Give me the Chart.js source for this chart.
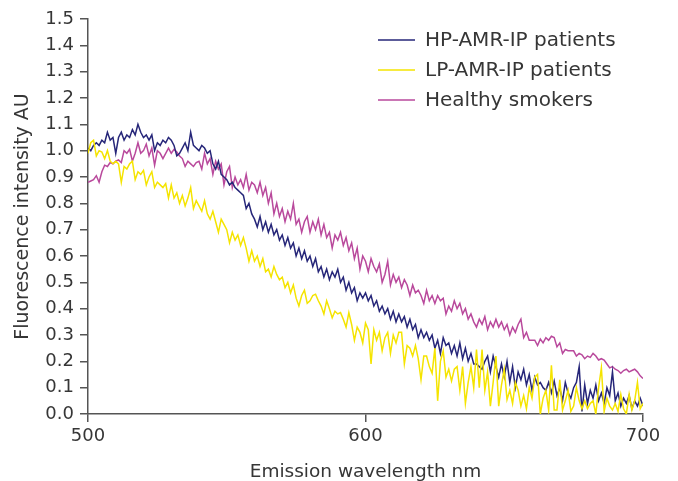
<!DOCTYPE html>
<html>
<head>
<meta charset="utf-8">
<title>Fluorescence spectra</title>
<script src="https://cdn.jsdelivr.net/npm/chart.js@4.4.1/dist/chart.umd.min.js"></script>
<style>
  html, body { margin: 0; padding: 0; background: #fff; }
  #wrap { width: 678px; height: 481px; position: relative; }
</style>
</head>
<body>
<div id="wrap"><canvas id="spectra"></canvas></div>
<script>
// series labels
const seriesNames = ["HP-AMR-IP patients", "LP-AMR-IP patients", "Healthy smokers"];

// fluorescence intensity (AU), one value per nm from 500 to 700 nm
const hpValues = [
  1.01, 1.00, 1.02, 1.03, 1.02, 1.04, 1.03, 1.07, 1.04, 1.05,
  0.99, 1.05, 1.07, 1.04, 1.06, 1.05, 1.08, 1.06, 1.10, 1.07,
  1.05, 1.06, 1.04, 1.06, 1.00, 1.03, 1.02, 1.04, 1.03, 1.05,
  1.04, 1.02, 0.98, 0.99, 1.01, 1.03, 1.00, 1.07, 1.02, 1.01,
  1.00, 1.02, 1.01, 0.99, 1.00, 0.95, 0.93, 0.96, 0.91, 0.90,
  0.89, 0.87, 0.88, 0.86, 0.85, 0.84, 0.83, 0.78, 0.80, 0.76,
  0.74, 0.71, 0.75, 0.70, 0.73, 0.69, 0.72, 0.68, 0.70, 0.66,
  0.68, 0.64, 0.67, 0.63, 0.65, 0.60, 0.63, 0.59, 0.62, 0.58,
  0.60, 0.56, 0.59, 0.54, 0.56, 0.52, 0.55, 0.51, 0.54, 0.52,
  0.55, 0.50, 0.52, 0.47, 0.50, 0.46, 0.48, 0.43, 0.46, 0.44,
  0.46, 0.43, 0.45, 0.41, 0.43, 0.39, 0.41, 0.38, 0.40, 0.36,
  0.39, 0.35, 0.38, 0.35, 0.37, 0.33, 0.36, 0.32, 0.34, 0.29,
  0.32, 0.29, 0.31, 0.28, 0.30, 0.25, 0.28, 0.23, 0.29, 0.26,
  0.27, 0.23, 0.26, 0.22, 0.27, 0.21, 0.25, 0.20, 0.23, 0.19,
  0.19, 0.18, 0.17, 0.20, 0.22, 0.16, 0.22, 0.18, 0.14, 0.19,
  0.14, 0.20, 0.12, 0.18, 0.10, 0.16, 0.13, 0.17, 0.11, 0.15,
  0.09, 0.14, 0.11, 0.12, 0.10, 0.09, 0.12, 0.08, 0.125, 0.07,
  0.10, 0.05, 0.12, 0.08, 0.06, 0.10, 0.12, 0.18, 0.01, 0.11,
  0.04, 0.09, 0.06, 0.11, 0.05, 0.08, 0.04, 0.10, 0.07, 0.16,
  0.05, 0.08, 0.03, 0.06, 0.04, 0.07, 0.02, 0.05, 0.03, 0.06,
  0.03
];

const lpValues = [
  0.99, 1.03, 1.04, 0.98, 1.00, 0.995, 0.97, 1.00, 0.96, 0.95,
  0.96, 0.95, 0.88, 0.94, 0.93, 0.95, 0.96, 0.89, 0.92, 0.91,
  0.925, 0.87, 0.90, 0.92, 0.86, 0.88, 0.87, 0.86, 0.875, 0.82,
  0.87, 0.82, 0.84, 0.80, 0.83, 0.79, 0.82, 0.86, 0.78, 0.81,
  0.79, 0.77, 0.81, 0.76, 0.74, 0.77, 0.73, 0.69, 0.74, 0.72,
  0.70, 0.65, 0.69, 0.66, 0.68, 0.64, 0.67, 0.63, 0.58, 0.62,
  0.58, 0.60, 0.56, 0.59, 0.54, 0.55, 0.52, 0.56, 0.53, 0.51,
  0.52, 0.48, 0.50, 0.46, 0.49, 0.44, 0.41, 0.45, 0.47, 0.42,
  0.43, 0.45, 0.455, 0.43, 0.41, 0.38, 0.43, 0.40, 0.365, 0.39,
  0.38, 0.385, 0.36, 0.33, 0.385, 0.34, 0.28, 0.33, 0.31, 0.27,
  0.345, 0.32, 0.19, 0.32, 0.28, 0.31, 0.24, 0.29, 0.31, 0.23,
  0.30, 0.27, 0.31, 0.31, 0.19, 0.26, 0.25, 0.22, 0.26, 0.21,
  0.13, 0.22, 0.22, 0.18, 0.155, 0.25, 0.05, 0.20, 0.24, 0.14,
  0.17, 0.125, 0.17, 0.18, 0.09, 0.18, 0.04, 0.12, 0.18, 0.10,
  0.245, 0.10, 0.245, 0.09, 0.16, 0.03, 0.12, 0.22, 0.03, 0.11,
  0.17, 0.055, 0.09, 0.04, 0.12, 0.09, 0.03, 0.07, 0.02, 0.10,
  0.06, 0.14, 0.15, 0.00, 0.06, 0.09, 0.015, 0.185, 0.015, 0.015,
  0.13, 0.015, 0.05, 0.09, 0.01, 0.03, 0.10, 0.05, 0.02, 0.05,
  0.02, 0.04, 0.05, 0.00, 0.10, 0.175, 0.01, 0.06, 0.03, 0.015,
  0.04, 0.01, 0.075, 0.02, 0.00, 0.075, 0.015, 0.05, 0.12, 0.02,
  0.04
];

const smokerValues = [
  0.88, 0.885, 0.89, 0.905, 0.88, 0.92, 0.945, 0.94, 0.955, 0.95,
  0.96, 0.965, 0.955, 1.00, 0.99, 1.005, 0.96, 0.99, 1.03, 0.99,
  1.00, 1.025, 0.98, 1.01, 0.945, 1.00, 0.99, 0.97, 0.99, 1.01,
  0.99, 1.005, 0.995, 0.98, 0.97, 0.94, 0.96, 0.95, 0.94, 0.955,
  0.96, 0.93, 0.99, 0.95, 0.97, 0.91, 0.96, 0.93, 0.95, 0.87,
  0.92, 0.94, 0.86, 0.90, 0.87, 0.89, 0.86, 0.91, 0.85, 0.88,
  0.87, 0.84, 0.88, 0.83, 0.86, 0.80, 0.84, 0.76, 0.80, 0.75,
  0.78, 0.73, 0.77, 0.74, 0.80, 0.72, 0.74, 0.69, 0.73, 0.75,
  0.69, 0.73, 0.70, 0.74, 0.68, 0.72, 0.67, 0.69, 0.63, 0.68,
  0.66, 0.69, 0.64, 0.67, 0.62, 0.65, 0.59, 0.63, 0.55, 0.60,
  0.58, 0.54, 0.59, 0.56, 0.54, 0.57, 0.50, 0.53, 0.58, 0.49,
  0.53, 0.50, 0.52, 0.48, 0.51, 0.49, 0.45, 0.49, 0.46, 0.47,
  0.45, 0.42, 0.47, 0.43, 0.45, 0.42, 0.45, 0.43, 0.44, 0.38,
  0.41, 0.39, 0.43, 0.40, 0.42, 0.38, 0.40, 0.36, 0.38, 0.35,
  0.33, 0.36, 0.34, 0.37, 0.32, 0.35, 0.33, 0.36, 0.33, 0.35,
  0.32, 0.34, 0.30, 0.33, 0.31, 0.34, 0.36, 0.29, 0.31, 0.28,
  0.28, 0.28, 0.26, 0.285, 0.27, 0.29, 0.28, 0.295, 0.29, 0.255,
  0.27, 0.23, 0.245, 0.24, 0.24, 0.24, 0.22, 0.23, 0.225, 0.21,
  0.22, 0.215, 0.23, 0.22, 0.205, 0.21, 0.205, 0.19, 0.175, 0.18,
  0.17, 0.165, 0.155, 0.165, 0.17, 0.16, 0.165, 0.17, 0.16, 0.145,
  0.135
];

// axis ticks
const xTicks = [500, 600, 700];
const yTicks = [0, 0.1, 0.2, 0.3, 0.4, 0.5, 0.6, 0.7, 0.8, 0.9, 1.0, 1.1, 1.2, 1.3, 1.4, 1.5];

// wavelength grid, 1 nm steps starting at 500 nm
const wavelengths = hpValues.map((_, i) => xTicks[0] + i);

const FONT = "'DejaVu Sans', sans-serif";
const TEXT = "#363636";
const AXIS = "#555";
const colors = ["#262679", "#f5e400", "#b9499c"];

function toPoints(values) {
  return values.map((v, i) => ({ x: wavelengths[i], y: v }));
}

// legend drawn inside the plot, top right
const insideLegend = {
  id: "insideLegend",
  afterDraw(chart) {
    const ctx = chart.ctx;
    const area = chart.chartArea;
    const x0 = area.right - 265;
    ctx.save();
    ctx.font = "20px " + FONT;
    ctx.textBaseline = "middle";
    chart.data.datasets.forEach((ds, i) => {
      const y = area.top + 21 + i * 30;
      ctx.strokeStyle = ds.borderColor;
      ctx.lineWidth = 1.5;
      ctx.beginPath();
      ctx.moveTo(x0, y);
      ctx.lineTo(x0 + 37, y);
      ctx.stroke();
      ctx.fillStyle = TEXT;
      ctx.fillText(ds.label, x0 + 47, y + 1);
    });
    ctx.restore();
  }
};

const ctx = document.getElementById("spectra").getContext("2d");
new Chart(ctx, {
  type: "line",
  data: {
    datasets: [
      { label: seriesNames[0], data: toPoints(hpValues), borderColor: colors[0], order: 1 },
      { label: seriesNames[1], data: toPoints(lpValues), borderColor: colors[1], order: 0 },
      { label: seriesNames[2], data: toPoints(smokerValues), borderColor: colors[2], order: 2 }
    ]
  },
  options: {
    responsive: true,
    maintainAspectRatio: false,
    animation: false,
    layout: { padding: { top: 19, right: 35, left: 0, bottom: 0 } },
    elements: {
      line: { borderWidth: 1.5, tension: 0, fill: false },
      point: { radius: 0 }
    },
    plugins: {
      legend: { display: false },
      tooltip: { enabled: false }
    },
    scales: {
      x: {
        type: "linear",
        min: xTicks[0],
        max: xTicks[xTicks.length - 1],
        afterBuildTicks: (axis) => { axis.ticks = xTicks.map((v) => ({ value: v })); },
        afterFit: (axis) => { axis.height = 67; },
        ticks: { color: TEXT, font: { family: FONT, size: 18 }, padding: 4, maxRotation: 0 },
        grid: { drawOnChartArea: false, drawTicks: true, tickLength: 8, color: AXIS, lineWidth: 1.5 },
        border: { color: AXIS, width: 1.5 },
        title: {
          display: true,
          text: "Emission wavelength nm",
          color: TEXT,
          font: { family: FONT, size: 18.5 },
          padding: { top: 0, bottom: -2 }
        }
      },
      y: {
        min: 0,
        max: 1.5,
        afterBuildTicks: (axis) => { axis.ticks = yTicks.map((v) => ({ value: v })); },
        afterFit: (axis) => { axis.width = 88; },
        ticks: {
          color: TEXT,
          font: { family: FONT, size: 18 },
          padding: 6,
          callback: (v) => Number(v).toFixed(1)
        },
        grid: { drawOnChartArea: false, drawTicks: true, tickLength: 8, color: AXIS, lineWidth: 1.5 },
        border: { color: AXIS, width: 1.5 },
        title: {
          display: true,
          text: "Fluorescence intensity AU",
          color: TEXT,
          font: { family: FONT, size: 19 },
          padding: { top: 12, bottom: 0 }
        }
      }
    }
  },
  plugins: [insideLegend]
});
</script>
</body>
</html>
